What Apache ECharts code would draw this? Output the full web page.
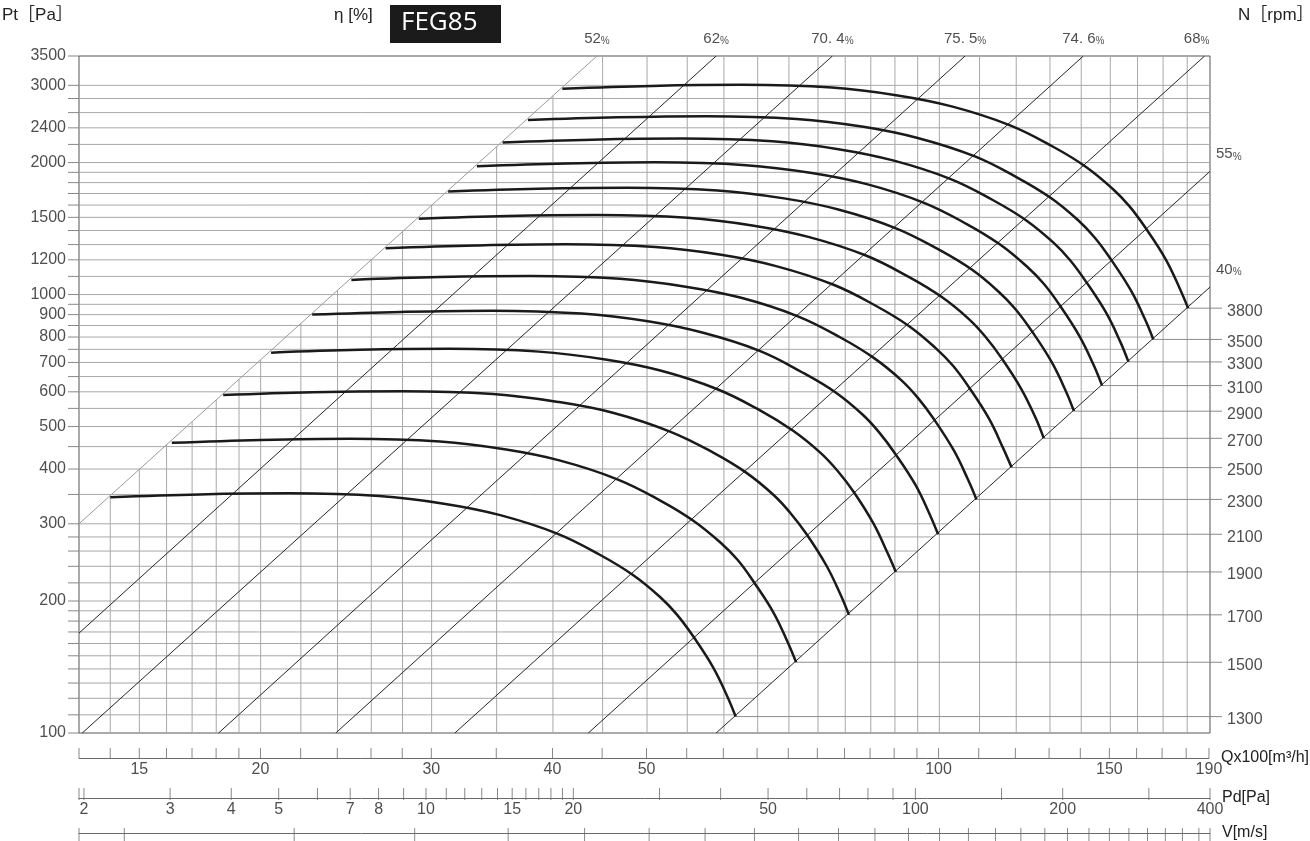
<!DOCTYPE html>
<html>
<head>
<meta charset="utf-8">
<script src="https://cdn.jsdelivr.net/npm/echarts@6.0.0/dist/echarts.min.js"></script>
<style>
html,body{margin:0;padding:0;background:#fff;}
#chart{width:1310px;height:841px;}
</style>
</head>
<body>
<div id="chart"></div>
<script>
const FONT = '"Liberation Sans Narrow","Liberation Sans","Noto Sans CJK SC",sans-serif';
const TXT = '#222';

// axis ranges
const qRange = [13, 190];
const ptRange = [100, 3500];
const pdRange = [1.954, 400];
const vRange = [1.795, 26.7];

// grid / tick values
const qGridValues = [14,15,16,17,18,19,20,22,24,26,28,30,35,40,45,50,55,60,65,70,75,80,85,90,95,100,110,120,130,140,150,160,170,180];
const qTickLabels = [15,20,30,40,50,100,150,190];
const ptGridValues = [110,120,130,140,150,160,170,180,190,200,220,240,260,280,300,350,400,450,500,550,600,650,700,750,800,850,900,950,1000,1100,1200,1300,1400,1500,1600,1700,1800,1900,2000,2200,2400,2600,2800,3000];
const ptTickLabels = [100,200,300,400,500,600,700,800,900,1000,1200,1500,2000,2400,3000,3500];
const pdTickValues = [2,3,4,5,6,7,8,9,10,11,12,13,14,15,16,17,18,19,20,30,40,50,60,70,80,90,100,150,200,300,400];
const pdTickLabels = [2,3,4,5,7,8,10,15,20,50,100,200,400];
const vTickValues = [2,3,4,5,6,7,8,9,10,11,12,13,14,15,16,17,18,19,20,21,22,23,24,25,26];

// fan speed curves  [Q x100 m3/h, Pt Pa]
const rpmValues = [1300,1500,1700,1900,2100,2300,2500,2700,2900,3100,3300,3500,3800];
const curve1300 = [[14.0,345],[17.3,350],[21.4,352],[26.5,347],[31.0,333],[35.3,314],[40.4,285],[44.7,255],[48.4,229],[51.6,204],[53.7,186],[55.8,166],[58.5,141],[60.5,121],[61.7,109]];
const curve1500 = [[16.2,459],[20.0,466],[24.7,469],[30.6,462],[35.8,443],[40.7,418],[46.6,379],[51.6,339],[55.8,305],[59.5,272],[62.0,248],[64.4,221],[67.5,188],[69.8,161],[71.2,145]];
const curve1700 = [[18.3,590],[22.6,599],[28.0,602],[34.7,593],[40.5,569],[46.2,537],[52.8,487],[58.5,436],[63.3,392],[67.5,349],[70.2,318],[73.0,284],[76.5,241],[79.1,207],[80.7,186]];
const curve1900 = [[20.5,737],[25.3,748],[31.3,752],[38.7,741],[45.3,711],[51.6,671],[59.0,609],[65.3,545],[70.7,489],[75.4,436],[78.5,397],[81.6,355],[85.5,301],[88.4,258],[90.2,233]];
const curve2100 = [[22.6,900],[27.9,913],[34.6,919],[42.8,905],[50.1,869],[57.0,819],[65.3,744],[72.2,665],[78.2,598],[83.4,532],[86.7,485],[90.1,433],[94.5,368],[97.7,316],[99.7,284]];
const curve2300 = [[24.8,1080],[30.6,1096],[37.9,1102],[46.9,1086],[54.8,1042],[62.5,983],[71.5,892],[79.1,798],[85.6,717],[91.3,639],[95.0,582],[98.7,520],[103.5,441],[107.0,379],[109.2,341]];
const curve2500 = [[26.9,1276],[33.3,1294],[41.2,1302],[51.0,1283],[59.6,1232],[67.9,1161],[77.7,1054],[86.0,943],[93.1,847],[99.2,754],[103.3,688],[107.3,614],[112.5,521],[116.3,447],[118.7,403]];
const curve2700 = [[29.1,1488],[35.9,1510],[44.4,1518],[55.0,1497],[64.4,1436],[73.3,1354],[83.9,1229],[92.8,1100],[100.5,988],[107.2,880],[111.5,802],[115.9,716],[121.5,608],[125.7,522],[128.1,470]];
const curve2900 = [[31.2,1717],[38.6,1742],[47.7,1752],[59.1,1727],[69.2,1657],[78.7,1563],[90.1,1418],[99.7,1269],[108.0,1140],[115.1,1015],[119.8,926],[124.5,826],[130.5,702],[135.0,602],[137.6,542]];
const curve3100 = [[33.4,1962],[41.3,1990],[51.0,2002],[63.2,1973],[73.9,1894],[84.2,1786],[96.3,1621],[106.6,1450],[115.4,1302],[123.0,1160],[128.1,1058],[133.1,944],[139.5,802],[144.3,688],[147.1,620]];
const curve3300 = [[35.5,2223],[43.9,2255],[54.3,2268],[67.3,2236],[78.7,2146],[89.6,2023],[102.6,1836],[113.5,1643],[122.9,1476],[131.0,1315],[136.3,1199],[141.6,1070],[148.5,909],[153.6,780],[156.6,702]];
const curve3500 = [[37.7,2501],[46.6,2537],[57.6,2552],[71.3,2515],[83.5,2414],[95.0,2276],[108.8,2066],[120.3,1848],[130.3,1660],[138.9,1479],[144.6,1348],[150.2,1203],[157.5,1022],[162.9,877],[166.1,790]];
const curve3800 = [[40.9,2948],[50.6,2991],[62.6,3008],[77.5,2965],[90.6,2845],[103.2,2683],[118.1,2435],[130.7,2179],[141.5,1957],[150.8,1743],[157.0,1589],[163.1,1418],[171.0,1205],[176.8,1034],[180.4,931]];
const curves = [curve1300,curve1500,curve1700,curve1900,curve2100,curve2300,curve2500,curve2700,curve2900,curve3100,curve3300,curve3500,curve3800];

// efficiency (system) lines
const effNames = ['52%','62%','70. 4%','75. 5%','74. 6%','68%','55%','40%'];
const eff52  = [[13,300],[44.4,3500]];
const eff62  = [[13,169],[58.9,3500]];
const eff704 = [[13.1,100],[77.6,3500]];
const eff755 = [[18.1,100],[106.3,3500]];
const eff746 = [[23.9,100],[140.7,3500]];
const eff68  = [[31.7,100],[187.6,3500]];
const eff55  = [[43.5,100],[190,1910]];
const eff40  = [[58.9,100],[190,1040]];
const effLines = [eff52,eff62,eff704,eff755,eff746,eff68,eff55,eff40];

// ---------- build ----------
const lg = Math.log10;
function pOnLine(line, q){ const a=line[0], b=line[1]; const t=(lg(q)-lg(a[0]))/(lg(b[0])-lg(a[0])); return Math.pow(10, lg(a[1])+t*(lg(b[1])-lg(a[1]))); }
function qOnLine(line, p){ const a=line[0], b=line[1]; const t=(lg(p)-lg(a[1]))/(lg(b[1])-lg(a[1])); return Math.pow(10, lg(a[0])+t*(lg(b[0])-lg(a[0]))); }

const series = [];
const GRID_COLOR = '#a8a8a8';
function addLine(data, lineStyle, z, extra){
  series.push(Object.assign({type:'line', data:data, symbol:'none', silent:true, animation:false, lineStyle:lineStyle, z:z, xAxisIndex:0, yAxisIndex:0}, extra||{}));
}
function addScatter(opt){
  series.push(Object.assign({type:'scatter', silent:true, animation:false, clip:false, z:6}, opt));
}

// vertical grid lines: start at the left boundary (52%) line
qGridValues.forEach(q => {
  const top = Math.min(ptRange[1], pOnLine(eff52, q));
  addLine([[q, top],[q, ptRange[0]]], {color:GRID_COLOR, width:1}, 1);
});
// horizontal grid lines: stop at the right boundary (40%) line
ptGridValues.forEach(p => {
  const end = Math.min(qRange[1], qOnLine(eff40, p));
  addLine([[qRange[0], p],[end, p]], {color:GRID_COLOR, width:1}, 1);
});
// rpm reference lines from curve end to right border
curves.forEach(c => { const e = c[c.length-1]; addLine([[e[0], e[1]],[qRange[1], e[1]]], {color:'#8c8c8c', width:1}, 1); });
// efficiency lines
effLines.forEach((l,i) => addLine(l, {color: i===0 ? '#9a9a9a' : '#262626', width: 1}, i===0 ? 3 : 2));
// curves
curves.forEach(c => addLine(c, {color:'#1a1a1a', width:2.5}, 4, {smooth:0.4}));

// efficiency labels
const effLabelOpts = [
  {position:'top'},{position:'top'},{position:'top'},{position:'top'},{position:'top'},
  {position:'top', offset:[-8,0]},
  {position:'right', distance:6, offset:[0,-17]},
  {position:'right', distance:6, offset:[0,-17]}
];
addScatter({
  xAxisIndex:0, yAxisIndex:0, symbolSize:0,
  data: effLines.map((l,i) => ({name: effNames[i], value: l[l.length-1], label: effLabelOpts[i]})),
  label:{show:true, distance:10,
    formatter: p => '{n|' + p.name.replace('%','') + '}{s|%}',
    rich:{
      n:{fontFamily:FONT, fontSize:15, color:TXT, verticalAlign:'bottom', lineHeight:15},
      s:{fontFamily:FONT, fontSize:10, color:TXT, verticalAlign:'bottom', lineHeight:12}
    }}
});

// left Pt axis ticks + labels
addScatter({
  xAxisIndex:0, yAxisIndex:0, symbol:'rect', symbolSize:[11,1], symbolOffset:[-5.5,0],
  itemStyle:{color:'#6a6a6a'},
  data: [ptRange[0]].concat(ptGridValues, [ptRange[1]]).map(p => [qRange[0], p])
});
addScatter({
  xAxisIndex:0, yAxisIndex:0, symbolSize:0,
  data: ptTickLabels.map(p => [qRange[0], p]),
  label:{show:true, position:'left', distance:13, formatter: p => String(p.value[1]), fontFamily:FONT, fontSize:16, color:TXT}
});

// right rpm ticks + labels
addScatter({
  xAxisIndex:0, yAxisIndex:0, symbol:'rect', symbolSize:[12,1], symbolOffset:[6,0],
  itemStyle:{color:'#6a6a6a'},
  data: curves.map(c => [qRange[1], c[c.length-1][1]])
});
addScatter({
  xAxisIndex:0, yAxisIndex:0, symbolSize:0,
  data: curves.map((c,i) => ({name:String(rpmValues[i]), value:[qRange[1], c[c.length-1][1]]})),
  label:{show:true, position:'right', distance:17, offset:[0,3], formatter:'{b}', fontFamily:FONT, fontSize:16, color:TXT}
});

// bottom scales
function bottomScale(axisIdx, ticks, labels, tickLen, labelDist){
  addScatter({
    xAxisIndex:axisIdx, yAxisIndex:axisIdx, symbol:'rect', symbolSize:[1,tickLen], symbolOffset:[0,tickLen/2],
    itemStyle:{color:'#6a6a6a'},
    data: ticks.map(v => [v, 1])
  });
  if (labels) addScatter({
    xAxisIndex:axisIdx, yAxisIndex:axisIdx, symbolSize:0,
    data: labels.map(v => [v, 1]),
    label:{show:true, position:'bottom', distance:labelDist, formatter: p => String(p.value[0]), fontFamily:FONT, fontSize:16, color:TXT}
  });
}
bottomScale(1, [qRange[0]].concat(qGridValues, [qRange[1]]), qTickLabels, 10, 14);
bottomScale(2, [pdRange[0]].concat(pdTickValues), pdTickLabels, 12, 14);
bottomScale(3, [vRange[0]].concat(vTickValues, [vRange[1]]), null, 14, 0);

const hidden = {axisLine:{show:false}, axisTick:{show:false}, axisLabel:{show:false}, splitLine:{show:false}};
function bottomAxis(idx, range, name){
  return Object.assign({}, hidden, {
    gridIndex:idx, type:'log', min:range[0], max:range[1], position:'top',
    axisLine:{show:true, lineStyle:{color:'#6a6a6a', width:1}},
    name:name, nameLocation:'end', nameGap:12,
    nameTextStyle:{fontFamily:FONT, fontSize:16, color:TXT, align:'left', verticalAlign:'middle'}
  });
}

const option = {
  animation:false,
  backgroundColor:'#fff',
  grid:[
    {left:79, top:56, width:1131, height:677, show:true, borderColor:'#555', borderWidth:1, backgroundColor:'transparent'},
    {left:79, top:748, width:1131, height:10},
    {left:79, top:788, width:1131, height:10},
    {left:79, top:828, width:1131, height:10}
  ],
  xAxis:[
    Object.assign({}, hidden, {gridIndex:0, type:'log', min:qRange[0], max:qRange[1]}),
    bottomAxis(1, qRange, 'Qx100[m³/h]'),
    bottomAxis(2, pdRange, 'Pd[Pa]'),
    bottomAxis(3, vRange, 'V[m/s]')
  ],
  yAxis:[
    Object.assign({}, hidden, {gridIndex:0, type:'log', min:ptRange[0], max:ptRange[1]}),
    {gridIndex:1, type:'value', min:0, max:1, show:false},
    {gridIndex:2, type:'value', min:0, max:1, show:false},
    {gridIndex:3, type:'value', min:0, max:1, show:false}
  ],
  graphic:[
    {type:'text', left:2, top:7, style:{text:'Pt［Pa］', font:'17px ' + FONT, fill:TXT}},
    {type:'text', left:334, top:7, style:{text:'η [%]', font:'17px ' + FONT, fill:TXT}},
    {type:'rect', shape:{x:390, y:5, width:111, height:38}, style:{fill:'#1b1b1b'}},
    {type:'text', left:401, top:10, style:{text:'FEG85', font:'26px "Open Sans","Noto Sans",sans-serif', fill:'#fff'}},
    {type:'text', left:1238, top:7, style:{text:'N［rpm］', font:'17px ' + FONT, fill:TXT}}
  ],
  series: series
};

const chart = echarts.init(document.getElementById('chart'), null, {renderer:'canvas'});
chart.setOption(option);
</script>
</body>
</html>
